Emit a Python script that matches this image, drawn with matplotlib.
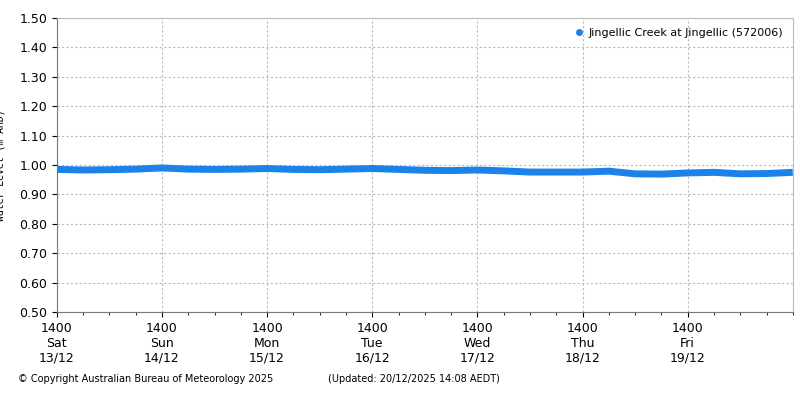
import matplotlib.pyplot as plt
from matplotlib.lines import Line2D
import numpy as np

# hours since Sat 13/12 14:00, sampled every 6 hours
hours = np.arange(0, 169, 6)
levels = [0.985, 0.983, 0.984, 0.986, 0.990, 0.986, 0.985, 0.986, 0.988, 0.985,
          0.984, 0.986, 0.988, 0.985, 0.982, 0.981, 0.983, 0.980, 0.976, 0.976,
          0.976, 0.979, 0.970, 0.969, 0.973, 0.975, 0.970, 0.971, 0.975]
day_labels = ['1400\nSat\n13/12', '1400\nSun\n14/12', '1400\nMon\n15/12', '1400\nTue\n16/12',
              '1400\nWed\n17/12', '1400\nThu\n18/12', '1400\nFri\n19/12']
series_name = 'Jingellic Creek at Jingellic (572006)'
blue = '#1a82e8'

fig = plt.figure(figsize=(8, 4), dpi=100)
ax = fig.add_axes([0.071, 0.22, 0.92, 0.735])
ax.plot(hours, levels, color=blue, linewidth=5, solid_capstyle='butt')
ax.set_xlim(0, 168)
ax.set_ylim(0.5, 1.5)
ax.set_yticks(np.arange(0.5, 1.51, 0.1))
ax.set_yticklabels([f'{v:.2f}' for v in np.arange(0.5, 1.51, 0.1)], fontsize=9)
ax.set_xticks(np.arange(0, 168, 24))
ax.set_xticklabels(day_labels, fontsize=9)
ax.set_xticks(np.arange(0, 169, 6), minor=True)
ax.grid(True, which='major', color='#bbbbbb', linestyle=(0, (2, 2)), linewidth=0.8)
ax.set_ylabel('Water Level (m AHD)', fontsize=7, family='DejaVu Sans Mono', labelpad=10)
for s in ['top', 'right']:
    ax.spines[s].set_color('#bbbbbb')
for s in ['left', 'bottom']:
    ax.spines[s].set_color('#777777')
handle = Line2D([], [], linestyle='none', marker='o', markersize=4, color=blue)
ax.legend([handle], [series_name], loc='upper right', frameon=False, fontsize=8,
          handlelength=0.8, handletextpad=0.4)
fig.text(0.022, 0.045, '© Copyright Australian Bureau of Meteorology 2025', fontsize=7)
fig.text(0.41, 0.045, '(Updated: 20/12/2025 14:08 AEDT)', fontsize=7)
plt.savefig('out.png')
